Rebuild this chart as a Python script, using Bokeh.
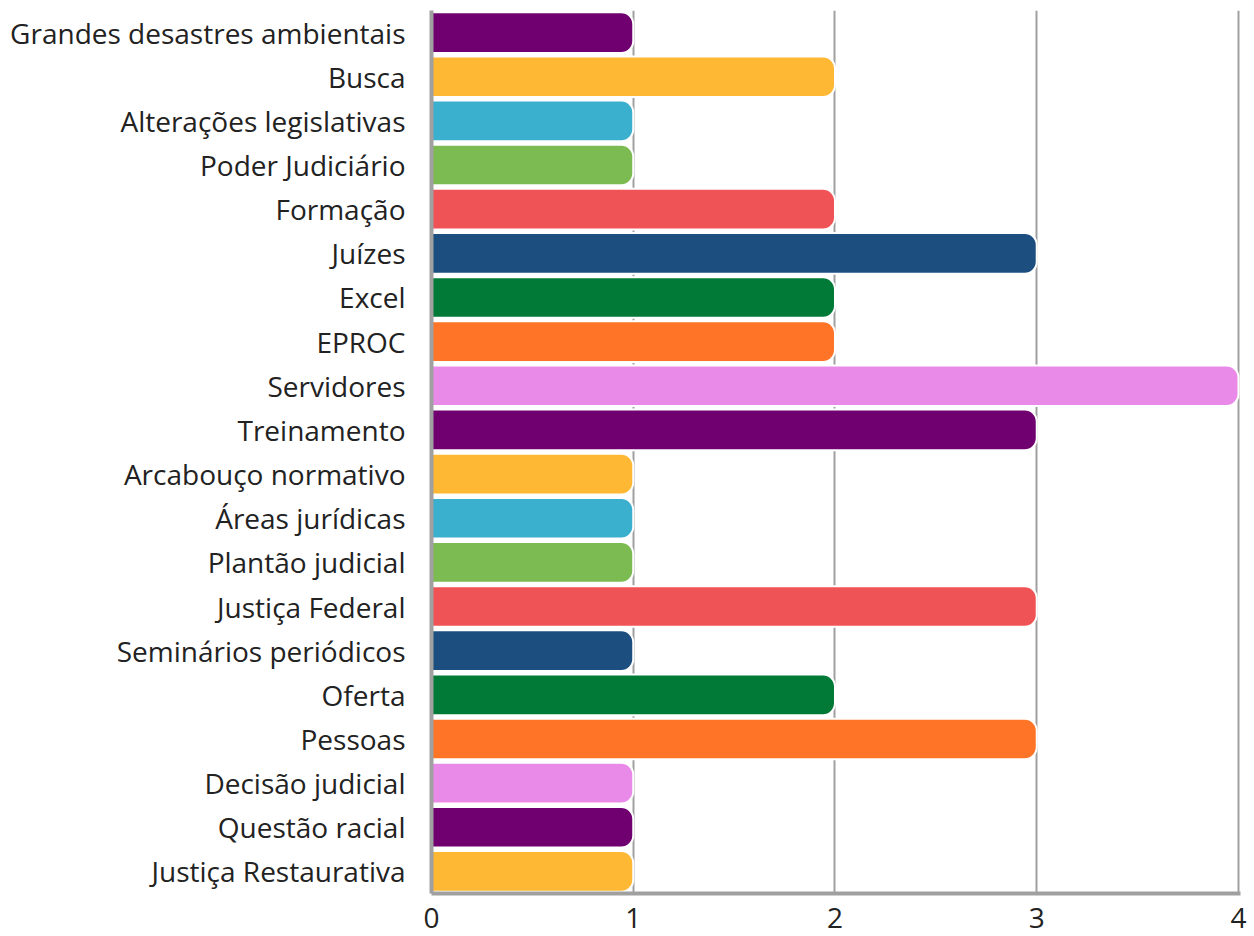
from bokeh.plotting import figure
from bokeh.models import ColumnDataSource, FixedTicker
from bokeh.embed import file_html
from bokeh.resources import INLINE

categories = [
    "Grandes desastres ambientais", "Busca", "Alterações legislativas",
    "Poder Judiciário", "Formação", "Juízes", "Excel", "EPROC", "Servidores",
    "Treinamento", "Arcabouço normativo", "Áreas jurídicas", "Plantão judicial",
    "Justiça Federal", "Seminários periódicos", "Oferta", "Pessoas",
    "Decisão judicial", "Questão racial", "Justiça Restaurativa",
]
values = [1, 2, 1, 1, 2, 3, 2, 2, 4, 3, 1, 1, 1, 3, 1, 2, 3, 1, 1, 1]
palette = ["#700070", "#feb833", "#3aafce", "#7cbb52", "#f05356",
           "#1c4f80", "#007a36", "#ff7427", "#ea8ae8"]
colors = [palette[i % len(palette)] for i in range(len(categories))]
x_ticks = [0, 1, 2, 3, 4]

src = ColumnDataSource(dict(cat=categories, val=values, color=colors))

p = figure(
    y_range=list(reversed(categories)), x_range=(0, 4.01),
    width=1254, height=936, output_backend="svg", toolbar_location=None,
    min_border_left=431, min_border_right=14, min_border_top=10, min_border_bottom=43,
)
p.y_range.range_padding = 0
p.hbar(y="cat", left=0, right="val", height=0.92, fill_color="color",
       line_color="white", line_width=2, border_radius=(0, 12, 12, 0), source=src)

p.outline_line_color = None
p.ygrid.grid_line_color = None
p.xgrid.grid_line_color = "#a0a0a0"
p.xgrid.grid_line_width = 2
p.xaxis.ticker = FixedTicker(ticks=x_ticks)

for ax in (p.xaxis, p.yaxis):
    ax.axis_line_color = "#a0a0a0"
    ax.axis_line_width = 4
    ax.major_tick_line_color = None
    ax.minor_tick_line_color = None
    ax.major_label_text_font = "Open Sans"
    ax.major_label_text_font_size = "28px"
    ax.major_label_text_color = "#222222"
p.xaxis.major_label_standoff = 8
p.yaxis.major_label_standoff = 20

open("out.html", "w").write(file_html(p, INLINE))
